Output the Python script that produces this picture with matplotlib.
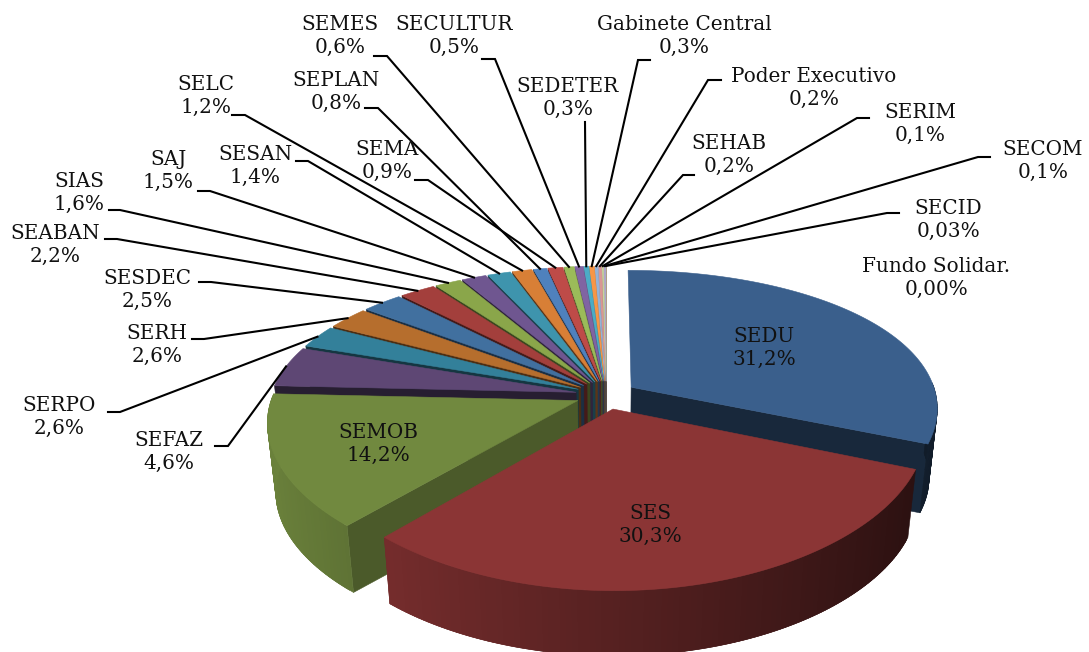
import numpy as np
import matplotlib
matplotlib.use('Agg')
import matplotlib.pyplot as plt
from matplotlib.colors import to_rgb

# clockwise from 12 o'clock
names = ['SEDU', 'SES', 'SEMOB', 'SEFAZ', 'SERPO', 'SERH', 'SESDEC', 'SEABAN', 'SIAS', 'SAJ',
         'SESAN', 'SELC', 'SEPLAN', 'SEMA', 'SEMES', 'SECULTUR', 'SEDETER', 'Gabinete Central',
         'Poder Executivo', 'SEHAB', 'SERIM', 'SECOM', 'SECID', 'Fundo Solidar.']
values = [31.2, 30.3, 14.2, 4.6, 2.6, 2.6, 2.5, 2.2, 1.6, 1.5,
          1.4, 1.2, 0.8, 0.9, 0.6, 0.5, 0.3, 0.3,
          0.2, 0.2, 0.1, 0.1, 0.03, 0.0]
pct_labels = ['31,2%', '30,3%', '14,2%', '4,6%', '2,6%', '2,6%', '2,5%', '2,2%', '1,6%', '1,5%',
              '1,4%', '1,2%', '0,8%', '0,9%', '0,6%', '0,5%', '0,3%', '0,3%',
              '0,2%', '0,2%', '0,1%', '0,1%', '0,03%', '0,00%']

colors = ['#3A5F8C', '#8B3535', '#71893F', '#5E4774', '#33809A', '#B66E2D', '#41709F', '#A33F3C',
          '#8AA64A', '#6F5690', '#3E94AD', '#D87F36', '#4F81BD', '#BE4B48', '#9BBB59', '#8064A2',
          '#4BACC6', '#F79646', '#95B3D7', '#D99694', '#C3D69B', '#B3A2C7', '#92CDDC', '#FAC090']

# label centre (x, y) and leader elbow (x0, x1, y), in pixels
label_pos = [(764, 348), (650, 525), (378, 444), (169, 452), (59, 417), (157, 345), (147, 290),
             (55, 245), (79, 193), (168, 171), (255, 166), (206, 96), (336, 92), (387, 161),
             (340, 36), (454, 36), (568, 98), (684, 36), (814, 88), (729, 155), (920, 124),
             (1043, 161), (948, 220), (936, 278)]
elbows = [None, None, None, (215, 228, 446), (108, 120, 412), (192, 204, 339), (199, 211, 282),
          (105, 117, 239), (109, 120, 210), (198, 210, 191), (296, 308, 161), (232, 245, 115),
          (365, 378, 108), (415, 428, 180), (374, 387, 56), (482, 495, 59), (585, 585, 122),
          (650, 638, 60), (721, 708, 80), (694, 683, 175), (869, 857, 118), (990, 978, 157),
          (899, 887, 213), None]

# 3d projection
CX, CY = 606, 395
A, B = 305, 141.5
KX, KY = 0.14, 0.188
EXPLODE = 0.1
H, F = 70, 0.975


def project(u, v, bottom=False):
    x = CX + A * u / (1 + KX * v)
    y = CY - B * v / (1 + KY * v)
    if bottom:
        x = CX + (x - CX) * F
        y = CY + (y - CY) * F + H
    return x, y


def shade(col, f):
    return tuple(min(1, c * f) for c in to_rgb(col))


def poly(ax, pts, col):
    pts = np.array(pts)
    ax.fill(pts[:, 0], pts[:, 1], color=col, lw=0.4, antialiased=True)


fig = plt.figure(figsize=(10.89, 6.52), dpi=100)
ax = fig.add_axes([0, 0, 1, 1])
ax.set_xlim(0, 1089)
ax.set_ylim(652, 0)
ax.axis('off')

vals = np.array(values)
edges = np.concatenate([[0], np.cumsum(vals)]) / vals.sum() * 2 * np.pi


def draw_wedge(i):
    t0, t1 = edges[i], edges[i + 1]
    tm = (t0 + t1) / 2
    ou, ov = EXPLODE * np.sin(tm), EXPLODE * np.cos(tm)
    ts = np.linspace(t0, t1, max(int((t1 - t0) * 60), 3))
    top = [project(ou, ov)] + [project(ou + np.sin(t), ov + np.cos(t)) for t in ts]
    col = colors[i]
    side = 0.66 if names[i] == 'SEMOB' else 0.42

    # radial faces that look at the camera
    for t, visible in ((t0, np.sin(t0) < 0), (t1, np.sin(t1) > 0)):
        if visible:
            ru, rv = ou + np.sin(t), ov + np.cos(t)
            poly(ax, [project(ou, ov), project(ru, rv), project(ru, rv, True), project(ou, ov, True)],
                 shade(col, side))

    # outer rim, strips overlap the next one so no seams show
    for k in range(len(ts) - 1):
        a, b = ts[k], ts[min(k + 2, len(ts) - 1)]
        m = (ts[k] + ts[k + 1]) / 2
        if np.cos(m) < 0.03:
            ua, va = ou + np.sin(a), ov + np.cos(a)
            ub, vb = ou + np.sin(b), ov + np.cos(b)
            poly(ax, [project(ua, va), project(ub, vb), project(ub, vb, True), project(ua, va, True)],
                 shade(col, 0.62 - 0.33 * np.sin(m)))

    poly(ax, top, col)


# back to front
order = list(range(len(values) - 1, 2, -1)) + [0, 2, 1]
for i in order:
    draw_wedge(i)

for i, name in enumerate(names):
    x, y = label_pos[i]
    ax.text(x, y, name + '\n' + pct_labels[i], ha='center', va='center', fontsize=14.4,
            family='DejaVu Serif', color='#111111', linespacing=1.24, zorder=6)
    if elbows[i] is None:
        continue
    x0, x1, ey = elbows[i]
    tm = (edges[i] + edges[i + 1]) / 2
    rx, ry = project((1 + EXPLODE) * np.sin(tm), (1 + EXPLODE) * np.cos(tm))
    ax.plot([x0, x1, rx], [ey, ey, ry], color='black', lw=1.5, solid_joinstyle='miter', zorder=5)

fig.savefig('out.png', dpi=100, facecolor='white')
